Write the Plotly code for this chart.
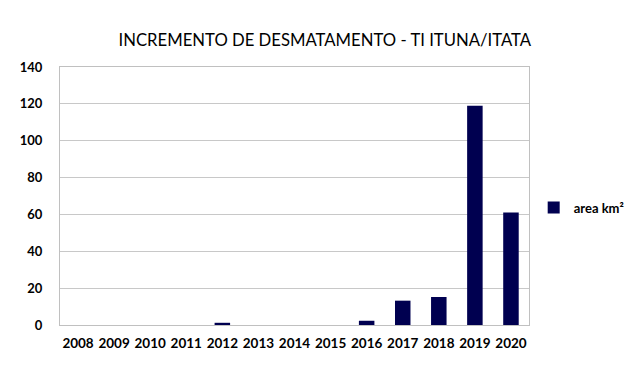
import plotly.graph_objects as go

years = ["2008", "2009", "2010", "2011", "2012", "2013", "2014", "2015",
         "2016", "2017", "2018", "2019", "2020"]
area_km2 = [0, 0, 0, 0, 1.2, 0, 0, 0, 2.3, 13.2, 15.2, 119, 61]
y_ticks = [0, 20, 40, 60, 80, 100, 120, 140]

fig = go.Figure()
fig.add_trace(go.Bar(
    x=years, y=area_km2, name="area km²",
    marker=dict(color="#000050", line=dict(width=0)),
))

font_family = "Lato, Open Sans, sans-serif"
fig.update_layout(
    width=640, height=378,
    margin=dict(l=52, r=119, t=59, b=61, autoexpand=False),
    paper_bgcolor="white", plot_bgcolor="white",
    bargap=0.57,
    showlegend=True,
    title=dict(text="INCREMENTO DE DESMATAMENTO - TI ITUNA/ITATA",
               x=0.495, xanchor="center", y=0.915, yanchor="middle",
               font=dict(family=font_family, size=16.7, color="#000000")),
    legend=dict(x=1.01, xanchor="left", y=0.455, yanchor="middle",
                itemwidth=30,
                font=dict(family=font_family, size=13, color="#000000",
                          weight="bold"),
                bgcolor="rgba(0,0,0,0)"),
    font=dict(family=font_family, color="#000000"),
)
fig.update_xaxes(
    type="category", showgrid=False, showline=True, linecolor="#c0c0c0",
    linewidth=1, mirror=True, ticks="", ticklabelstandoff=6,
    tickfont=dict(family=font_family, size=13.5, color="#000000", weight="bold"),
)
fig.update_yaxes(
    range=[0, 140], tickvals=y_ticks, showgrid=True, gridcolor="#c8c8c8",
    gridwidth=1, showline=True, linecolor="#c0c0c0", linewidth=1, mirror=True,
    zeroline=False, ticks="", ticklabelstandoff=14,
    tickfont=dict(family=font_family, size=13, color="#000000", weight="bold"),
)

fig.write_html("out.html")
